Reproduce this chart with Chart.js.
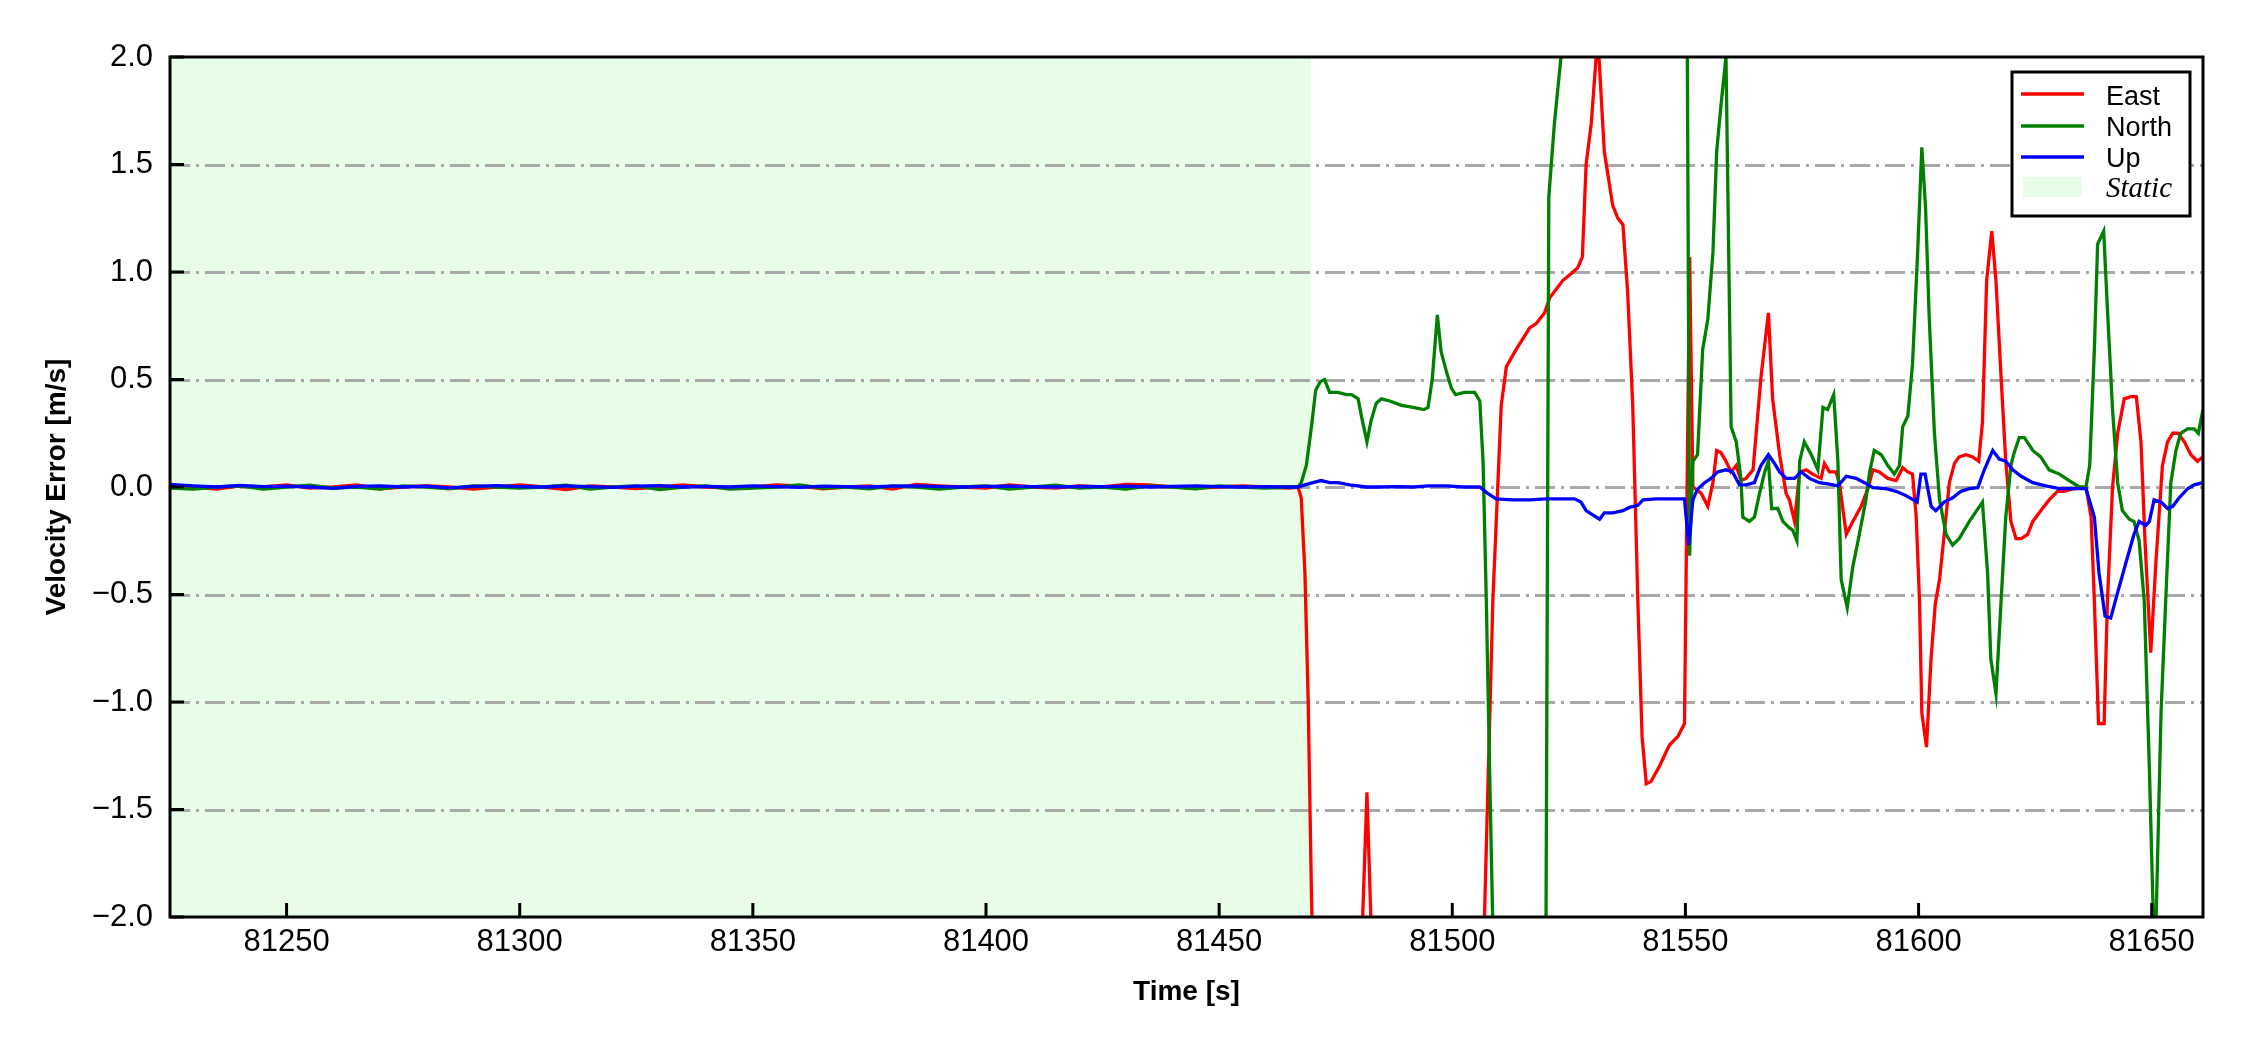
<!DOCTYPE html>
<html>
<head>
<meta charset="utf-8">
<script src="https://cdn.jsdelivr.net/npm/chart.js@4"></script>
<style>
  html, body { margin: 0; padding: 0; background: #fff; }
  #wrap { width: 2250px; height: 1050px; }
</style>
</head>
<body>
<div id="wrap"><canvas id="myChart" width="2250" height="1050"></canvas></div>
<script>
// axis ticks
const xTicks = [81250, 81300, 81350, 81400, 81450, 81500, 81550, 81600, 81650];
const yTicks = [-2, -1.5, -1, -0.5, 0, 0.5, 1, 1.5, 2];

// static period (shaded)
const staticStart = 81225;
const staticEnd = 81469.7;

// static part, same times for the three series
const staticTime = [81225,81230,81235,81240,81245,81250,81255,81260,81265,81270,
  81275,81280,81285,81290,81295,81300,81305,81310,81315,81320,
  81325,81330,81335,81340,81345,81350,81355,81360,81365,81370,
  81375,81380,81385,81390,81395,81400,81405,81410,81415,81420,
  81425,81430,81435,81440,81445,81450,81455,81460,81465];
const eastStatic = [0.01,0.0,-0.01,0.005,0.0,0.01,-0.005,0.0,0.01,-0.008,
  0.0,0.005,0.0,-0.01,0.0,0.01,0.0,-0.012,0.005,0.0,
  -0.008,0.0,0.01,0.0,-0.005,0.0,0.01,0.005,-0.008,0.0,
  0.005,-0.01,0.012,0.005,0.0,-0.005,0.01,0.0,-0.005,0.005,
  0.0,0.012,0.01,0.0,-0.005,0.0,0.005,0.0,-0.005];
const northStatic = [-0.005,-0.01,0.0,0.005,-0.01,0.0,0.008,-0.005,0.0,-0.01,
  0.005,0.0,-0.008,0.005,0.0,-0.005,0.0,0.008,-0.01,0.0,
  0.005,-0.012,0.0,0.005,-0.01,-0.005,0.0,0.01,-0.005,0.0,
  -0.008,0.005,0.0,-0.01,0.0,0.005,-0.01,0.0,0.008,-0.005,
  0.0,-0.01,0.005,0.0,-0.008,0.005,0.0,-0.005,0.0];
const upStatic = [0.012,0.005,0.0,0.008,0.002,0.004,0.0,-0.006,0.003,0.005,
  0.0,0.004,-0.004,0.003,0.006,0.002,0.0,0.005,0.002,-0.002,
  0.004,0.006,0.0,0.003,0.0,0.005,0.002,-0.002,0.004,0.002,
  0.0,0.004,0.005,0.002,0.0,0.003,0.004,0.002,0.0,0.003,
  0.002,0.004,0.0,0.003,0.005,0.002,0.0,0.002,0.0];

// East
const eastTime = [81466.9,81467.6,81468.4,81469.1,81469.8,81471.0,81475.0,81479.7,81480.7,81481.7,
  81482.6,81483.6,81490.0,81500.0,81505.5,81506.9,81508.7,81510.5,81511.6,81513.7,
  81516.6,81518.0,81519.8,81520.9,81523.7,81525.9,81526.9,81527.9,81528.7,81529.8,
  81531.2,81532.6,81534.4,81535.5,81536.6,81537.6,81538.7,81539.8,81540.7,81541.6,
  81542.6,81544.4,81545.9,81546.6,81548.4,81549.8,81550.9,81551.6,81553.4,81554.8,
  81555.9,81556.7,81557.6,81558.7,81559.8,81560.9,81561.9,81563.0,81564.5,81566.2,
  81567.8,81568.7,81570.2,81571.6,81572.3,81573.4,81574.5,81575.9,81577.3,81579.1,
  81579.8,81580.9,81582.3,81583.0,81584.5,81585.9,81587.7,81589.1,81590.2,81591.6,
  81593.4,81595.2,81596.6,81597.7,81598.7,81599.5,81600.2,81600.7,81601.7,81602.7,
  81603.6,81604.5,81605.5,81606.6,81607.7,81608.7,81610.2,81611.6,81612.9,81613.7,
  81614.6,81615.7,81616.6,81617.7,81618.7,81619.8,81620.9,81622.0,81623.4,81624.5,
  81626.2,81628.0,81629.8,81631.2,81632.7,81635.9,81637.0,81637.7,81638.6,81639.8,
  81640.5,81641.6,81642.7,81644.1,81645.5,81646.7,81647.7,81648.6,81649.8,81650.9,
  81652.3,81653.4,81654.5,81655.7,81657.0,81658.4,81659.8,81661.0];
const east = [0,-0.05,-0.4,-1.0,-1.9,-3.0,-3.4,-3.0,-2.05,-1.42,
  -2.05,-3.0,-3.5,-3.5,-3.0,-2.0,-0.53,0.38,0.56,0.64,
  0.74,0.76,0.81,0.88,0.96,1.0,1.02,1.07,1.5,1.69,
  2.1,1.56,1.31,1.25,1.22,0.91,0.38,-0.53,-1.16,-1.38,
  -1.37,-1.3,-1.23,-1.2,-1.16,-1.1,1.07,0.0,-0.03,-0.09,
  0.02,0.17,0.16,0.12,0.07,0.1,0.03,0.04,0.08,0.51,
  0.81,0.41,0.15,-0.03,-0.06,-0.16,0.07,0.08,0.06,0.04,
  0.11,0.07,0.07,0.02,-0.22,-0.16,-0.09,-0.01,0.08,0.07,
  0.04,0.03,0.09,0.07,0.06,-0.14,-0.53,-1.05,-1.21,-0.79,
  -0.54,-0.43,-0.22,0.02,0.11,0.14,0.15,0.14,0.12,0.3,
  0.96,1.19,0.96,0.51,0.12,-0.16,-0.24,-0.24,-0.22,-0.16,
  -0.11,-0.06,-0.02,-0.02,-0.01,0.0,-0.14,-0.53,-1.1,-1.1,
  -0.53,0.0,0.25,0.41,0.42,0.42,0.21,-0.27,-0.77,-0.35,
  0.1,0.21,0.25,0.25,0.21,0.15,0.12,0.14];

// North
const northTime = [81466.9,81467.6,81468.7,81469.8,81470.7,81471.7,81472.6,81473.7,81475.5,81477.3,
  81478.4,81479.8,81480.7,81481.7,81482.6,81483.7,81484.8,81486.6,81489.1,81491.6,
  81493.9,81494.8,81495.7,81496.8,81497.6,81498.7,81499.8,81500.7,81502.6,81504.8,
  81505.9,81506.6,81507.3,81508.0,81508.7,81510.0,81515.0,81520.0,81520.7,81521.9,
  81523.4,81525.0,81530.0,81535.0,81540.0,81545.0,81550.3,81550.9,81551.6,81552.6,
  81553.7,81554.8,81555.9,81556.7,81557.6,81558.7,81559.8,81560.9,81561.9,81562.3,
  81563.7,81564.8,81565.9,81567.0,81567.8,81568.5,81569.8,81570.9,81572.3,81573.0,
  81573.9,81574.5,81575.5,81577.0,81578.4,81579.5,81580.5,81581.8,81582.7,81583.4,
  81584.7,81585.9,81587.3,81588.7,81589.5,81590.5,81592.0,81593.4,81594.8,81595.9,
  81596.6,81597.7,81598.7,81599.8,81600.7,81601.5,81602.3,81603.4,81604.5,81605.9,
  81607.3,81608.7,81610.9,81613.7,81614.8,81615.5,81616.6,81617.7,81618.7,81619.8,
  81620.5,81621.6,81622.7,81624.5,81626.2,81628.0,81630.2,81632.3,81634.5,81635.9,
  81636.7,81637.7,81638.4,81639.7,81640.5,81641.6,81642.7,81643.7,81645.2,81646.2,
  81647.3,81648.4,81649.5,81650.4,81650.9,81652.0,81653.0,81654.1,81655.2,81656.2,
  81657.7,81659.1,81660.0,81661.0];
const north = [0,0.02,0.1,0.28,0.45,0.49,0.5,0.44,0.44,0.43,
  0.43,0.41,0.31,0.21,0.31,0.39,0.41,0.40,0.38,0.37,
  0.36,0.37,0.5,0.8,0.63,0.54,0.46,0.43,0.44,0.44,
  0.40,0.12,-0.53,-1.31,-2.05,-3.0,-3.2,-2.6,1.35,1.69,
  2.02,2.6,3.0,3.2,3.0,2.8,2.5,-0.32,0.12,0.15,
  0.64,0.78,1.09,1.56,1.77,2.0,0.28,0.21,0.04,-0.14,
  -0.16,-0.14,-0.03,0.07,0.12,-0.1,-0.1,-0.16,-0.19,-0.2,
  -0.25,0.12,0.21,0.15,0.08,0.37,0.36,0.43,0.12,-0.43,
  -0.56,-0.37,-0.22,-0.06,0.07,0.17,0.15,0.1,0.06,0.1,
  0.28,0.33,0.57,1.09,1.58,1.3,0.78,0.25,-0.06,-0.22,
  -0.27,-0.24,-0.16,-0.07,-0.40,-0.8,-0.96,-0.53,-0.14,0.1,
  0.16,0.23,0.23,0.17,0.14,0.08,0.06,0.03,0.0,0.0,
  0.1,0.64,1.13,1.19,0.83,0.36,0.02,-0.11,-0.15,-0.16,
  -0.25,-0.53,-1.31,-2.05,-2.05,-1.05,-0.53,0.02,0.17,0.25,
  0.27,0.27,0.25,0.36];

// Up
const upTime = [81466.9,81468.4,81470.1,81471.9,81473.7,81475.5,81478.0,81481.6,81484.4,81488.0,
  81491.6,81495.1,81498.7,81502.3,81505.9,81507.6,81509.4,81513.0,81516.6,81520.1,
  81523.7,81526.2,81527.6,81528.7,81530.1,81531.6,81532.6,81534.4,81536.6,81538.0,
  81539.8,81540.9,81543.7,81546.6,81549.8,81550.7,81551.6,81552.6,81554.1,81555.5,
  81556.9,81558.7,81560.1,81561.6,81563.0,81564.8,81566.2,81567.8,81569.1,81570.2,
  81571.6,81573.4,81574.8,81576.6,81578.7,81580.9,81582.7,81584.5,81586.6,81588.4,
  81590.2,81593.0,81595.2,81597.3,81599.7,81600.5,81601.4,81602.7,81603.7,81605.5,
  81607.3,81609.1,81610.9,81612.7,81614.1,81615.9,81617.3,81618.7,81620.2,81622.0,
  81624.5,81627.3,81630.2,81633.0,81635.9,81637.7,81638.7,81640.0,81641.2,81642.7,
  81644.5,81646.2,81647.3,81648.7,81649.5,81650.5,81652.0,81653.4,81654.5,81655.9,
  81657.7,81659.1,81661.0];
const up = [0,0.01,0.02,0.03,0.02,0.02,0.01,0.0,0.0,0.002,
  0.0,0.005,0.005,0.0,0.0,-0.03,-0.055,-0.06,-0.06,-0.055,
  -0.055,-0.055,-0.07,-0.11,-0.13,-0.15,-0.12,-0.12,-0.11,-0.095,
  -0.085,-0.06,-0.055,-0.055,-0.055,-0.27,-0.06,-0.01,0.02,0.04,
  0.07,0.08,0.07,0.01,0.01,0.02,0.1,0.15,0.11,0.07,
  0.04,0.04,0.07,0.04,0.02,0.013,0.005,0.05,0.04,0.02,
  -0.003,-0.008,-0.02,-0.04,-0.07,0.06,0.06,-0.09,-0.11,-0.07,
  -0.05,-0.02,-0.008,-0.003,0.08,0.17,0.13,0.12,0.08,0.05,
  0.02,0.005,-0.008,-0.008,-0.008,-0.14,-0.40,-0.6,-0.61,-0.49,
  -0.35,-0.22,-0.16,-0.18,-0.16,-0.06,-0.07,-0.1,-0.09,-0.05,
  -0.008,0.01,0.02];

function toPoints(times, values) {
  return times.map((t, i) => ({ x: t, y: values[i] }));
}

const FONT = 'Liberation Sans';
const LINE_W = 3.3;

// shading, dash-dot grid, inward ticks, frame and legend
const decor = {
  id: 'decor',
  beforeDatasetsDraw(chart) {
    const { ctx, chartArea: a, scales: { x, y } } = chart;
    ctx.save();
    ctx.fillStyle = '#e8fde8';
    const x0 = Math.max(a.left, x.getPixelForValue(staticStart));
    const x1 = x.getPixelForValue(staticEnd);
    ctx.fillRect(x0, a.top, x1 - x0, a.bottom - a.top);

    ctx.strokeStyle = '#a9a9a9';
    ctx.lineWidth = 3;
    ctx.setLineDash([20, 6, 3, 6]);
    yTicks.forEach(v => {
      if (v <= -2 || v >= 2) return;
      const py = Math.round(y.getPixelForValue(v)) + 0.5;
      ctx.beginPath();
      ctx.moveTo(a.left, py);
      ctx.lineTo(a.right, py);
      ctx.stroke();
    });
    ctx.restore();
  },
  afterDatasetsDraw(chart) {
    const { ctx, chartArea: a, scales: { x, y } } = chart;
    ctx.save();
    ctx.strokeStyle = '#000';
    ctx.lineWidth = 3;
    ctx.setLineDash([]);
    xTicks.forEach(v => {
      const px = x.getPixelForValue(v);
      ctx.beginPath();
      ctx.moveTo(px, a.bottom);
      ctx.lineTo(px, a.bottom - 14);
      ctx.stroke();
    });
    yTicks.forEach(v => {
      const py = y.getPixelForValue(v);
      ctx.beginPath();
      ctx.moveTo(a.left, py);
      ctx.lineTo(a.left + 14, py);
      ctx.stroke();
    });
    ctx.strokeRect(a.left, a.top, a.right - a.left, a.bottom - a.top);

    // legend
    ctx.fillStyle = '#fff';
    ctx.fillRect(2012, 72, 178, 144);
    ctx.strokeRect(2012, 72, 178, 144);
    const rows = [94, 126, 157];
    const base = [105, 136, 167];
    chart.data.datasets.forEach((ds, i) => {
      ctx.strokeStyle = ds.borderColor;
      ctx.lineWidth = LINE_W;
      ctx.beginPath();
      ctx.moveTo(2021, rows[i]);
      ctx.lineTo(2084, rows[i]);
      ctx.stroke();
      ctx.fillStyle = '#000';
      ctx.font = '27px "' + FONT + '"';
      ctx.textBaseline = 'alphabetic';
      ctx.textAlign = 'left';
      ctx.fillText(ds.label, 2106, base[i]);
    });
    ctx.fillStyle = '#e8fde8';
    ctx.fillRect(2023, 177, 59, 20);
    ctx.fillStyle = '#000';
    ctx.font = 'italic 29px "Liberation Serif"';
    ctx.fillText('Static', 2106, 197);
    ctx.restore();
  }
};

const config = {
  type: 'line',
  data: {
    datasets: [
      {
        label: 'East',
        data: toPoints(staticTime.concat(eastTime), eastStatic.concat(east)),
        borderColor: '#ff0000',
        borderWidth: LINE_W,
        pointRadius: 0,
        order: 3
      },
      {
        label: 'North',
        data: toPoints(staticTime.concat(northTime), northStatic.concat(north)),
        borderColor: '#008000',
        borderWidth: LINE_W,
        pointRadius: 0,
        order: 2
      },
      {
        label: 'Up',
        data: toPoints(staticTime.concat(upTime), upStatic.concat(up)),
        borderColor: '#0000ff',
        borderWidth: LINE_W,
        pointRadius: 0,
        order: 1
      }
    ]
  },
  options: {
    responsive: false,
    animation: false,
    devicePixelRatio: 1,
    layout: { padding: { left: 0, right: 47, top: 57, bottom: 0 } },
    plugins: { legend: { display: false }, tooltip: { enabled: false } },
    scales: {
      x: {
        type: 'linear',
        min: 81225,
        max: 81661,
        afterBuildTicks: s => { s.ticks = xTicks.map(v => ({ value: v })); },
        afterFit: s => { s.height = 133; },
        grid: { display: false, drawTicks: false },
        border: { display: false },
        ticks: {
          padding: 7, color: '#000', autoSkip: false, maxRotation: 0,
          font: { family: FONT, size: 31 },
          callback: v => String(v)
        },
        title: {
          display: true, text: 'Time [s]', color: '#000',
          font: { family: FONT, size: 28, weight: 'bold' },
          padding: { top: 0, bottom: 41 }
        }
      },
      y: {
        type: 'linear',
        min: -2,
        max: 2,
        afterBuildTicks: s => { s.ticks = yTicks.map(v => ({ value: v })); },
        afterFit: s => { s.width = 170; },
        grid: { display: false, drawTicks: false },
        border: { display: false },
        ticks: {
          padding: 17, color: '#000', autoSkip: false,
          font: { family: FONT, size: 31 },
          callback: v => Number(v).toFixed(1).replace('-', '\u2212')
        },
        title: {
          display: true, text: 'Velocity Error [m/s]', color: '#000',
          font: { family: FONT, size: 28, weight: 'bold' },
          padding: { top: 40, bottom: 0 }
        }
      }
    }
  },
  plugins: [decor]
};

const myChart = new Chart(document.getElementById('myChart'), config);
</script>
</body>
</html>
